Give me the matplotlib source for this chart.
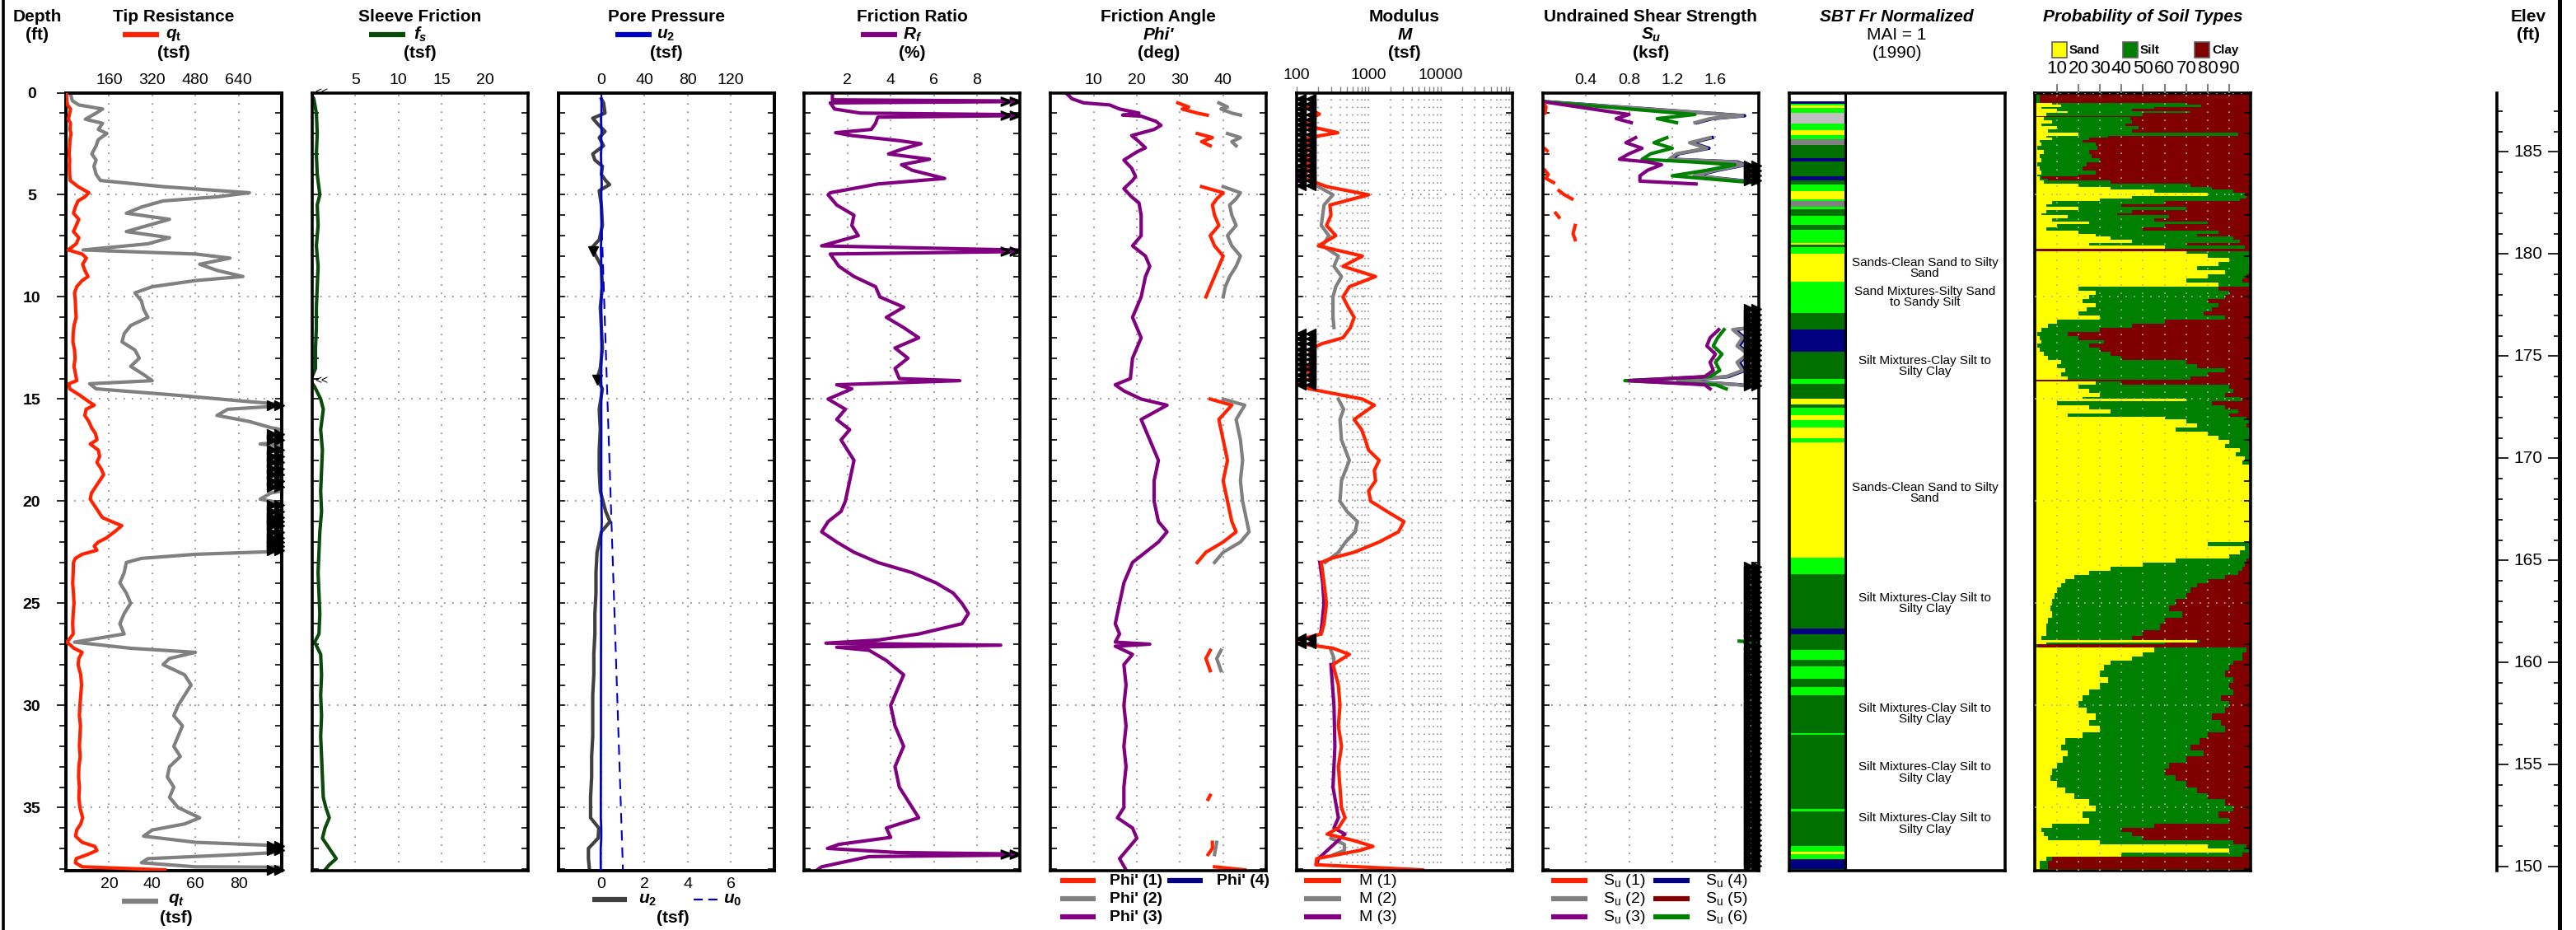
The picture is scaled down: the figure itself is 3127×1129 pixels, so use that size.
import numpy as np
import matplotlib
matplotlib.use("Agg")
import matplotlib.pyplot as plt
from matplotlib.ticker import NullFormatter, FixedLocator
from matplotlib.transforms import blended_transform_factory
from matplotlib.lines import Line2D
from matplotlib.patches import Rectangle

plt.rcParams['font.family'] = ['Liberation Sans', 'DejaVu Sans']
plt.rcParams['mathtext.fontset'] = 'custom'
plt.rcParams['mathtext.it'] = 'Liberation Sans:italic:bold'
plt.rcParams['mathtext.rm'] = 'Liberation Sans:bold'
plt.rcParams['mathtext.sf'] = 'Liberation Sans'
plt.rcParams['mathtext.bf'] = 'Liberation Sans:bold'

nan = np.nan

# ---------------- data (depth ft, value) ----------------
qt_pts = [(0.0, 2), (0.4, 3), (0.6, 6), (0.8, 17), (1.0, 14), (1.3, 9), (1.5, 17), (1.8, 15), (2.0, 19),
          (2.3, 15), (2.6, 14), (3.0, 12), (3.3, 14), (3.6, 13), (4.0, 14), (4.3, 16), (4.6, 45), (4.9, 85),
          (5.1, 70), (5.3, 45), (5.6, 35), (5.9, 28), (6.2, 48), (6.5, 38), (6.8, 28), (7.1, 48), (7.4, 38),
          (7.7, 8), (7.9, 60), (8.1, 76), (8.4, 62), (8.7, 70), (9.0, 82), (9.2, 60), (9.5, 40), (9.8, 32),
          (10.2, 35), (10.6, 36), (11.0, 38), (11.4, 30), (11.8, 27), (12.2, 26), (12.6, 32), (13.0, 34),
          (13.4, 30), (13.8, 36), (14.1, 40), (14.25, 11), (14.5, 14), (14.8, 50), (15.1, 82), (15.3, 105),
          (15.5, 75), (15.8, 70), (16.1, 85), (16.4, 95), (16.7, 110), (17.0, 115), (17.2, 90), (17.5, 120),
          (17.8, 125), (18.1, 115), (18.4, 130), (18.7, 140), (19.0, 125), (19.3, 110), (19.6, 95), (19.9, 90),
          (20.2, 105), (20.5, 120), (20.8, 135), (21.0, 170), (21.2, 207), (21.5, 180), (21.8, 150), (22.0, 120),
          (22.2, 105), (22.4, 115), (22.6, 60), (22.8, 35), (23.0, 28), (23.5, 27), (24.0, 25), (24.5, 28),
          (25.0, 30), (25.5, 27), (26.0, 25), (26.5, 27), (26.9, 4), (27.2, 30), (27.4, 60), (27.7, 48),
          (28.0, 45), (28.5, 55), (29.0, 58), (29.5, 55), (30.0, 52), (30.5, 50), (31.0, 54), (31.5, 52),
          (32.0, 50), (32.5, 53), (33.0, 48), (33.5, 47), (34.0, 50), (34.5, 48), (35.0, 52), (35.5, 62),
          (35.8, 55), (36.1, 40), (36.4, 36), (36.7, 60), (36.9, 107), (37.1, 115), (37.3, 80), (37.5, 38),
          (37.7, 35), (37.9, 60), (38.05, 367)]

fs_pts = [(0.0, -0.2), (0.3, 0.2), (1.0, 0.5), (2.0, 0.6), (3.0, 0.5), (4.0, 0.6), (5.0, 0.9), (5.5, 0.6),
          (6.5, 0.7), (7.5, 0.5), (8.5, 0.7), (9.5, 0.6), (10.5, 0.5), (11.5, 0.5), (12.5, 0.4), (13.5, 0.4),
          (14.1, -0.2), (14.4, 0.3), (15.0, 1.0), (15.5, 1.3), (16.5, 1.0), (17.5, 1.2), (18.5, 1.1),
          (19.5, 1.0), (20.5, 1.1), (21.5, 0.9), (22.5, 0.8), (23.5, 0.7), (24.5, 0.8), (25.5, 0.9),
          (26.5, 0.8), (26.9, 0.3), (27.5, 1.0), (28.5, 1.1), (29.5, 1.0), (30.5, 1.1), (31.5, 1.0),
          (32.5, 1.1), (33.5, 1.2), (34.5, 1.3), (35.0, 1.6), (35.5, 2.0), (36.0, 1.5), (36.5, 1.2),
          (37.0, 2.0), (37.5, 2.8), (37.8, 2.0), (38.05, 1.5)]

u2_pts = [(0.3, 0.0), (0.5, 0.1), (1.0, 0.17), (1.25, -0.4), (1.5, -0.2), (1.9, 0.17), (2.2, -0.1), (2.6, 0.1),
          (3.0, -0.4), (3.3, -0.3), (3.6, 0.05), (4.0, 0.0), (4.3, 0.2), (4.5, 0.38), (4.8, -0.1), (5.5, 0.0),
          (6.5, 0.05), (7.2, -0.1), (7.6, -0.45), (7.9, -0.3), (8.5, 0.0), (9.5, 0.05), (10.5, -0.05),
          (11.5, 0.0), (12.5, 0.05), (13.5, -0.05), (14.0, -0.2), (14.5, 0.05), (15.5, -0.1), (16.5, -0.05),
          (17.5, -0.1), (18.5, -0.1), (19.5, -0.05), (20.5, 0.2), (21.0, 0.4), (21.5, 0.0), (22.5, -0.2),
          (23.5, -0.25), (24.5, -0.25), (25.5, -0.3), (26.5, -0.3), (27.5, -0.35), (28.5, -0.35),
          (29.5, -0.4), (30.5, -0.4), (31.5, -0.4), (32.5, -0.45), (33.5, -0.45), (34.5, -0.5),
          (35.5, -0.5), (36.0, -0.12), (36.5, -0.15), (37.0, -0.6), (37.5, -0.6), (38.05, -0.55)]
u0_pts = [(0.0, 0.0), (6.0, 0.0), (38.05, 1.0)]
u2_flag_pts = [(7.75, -0.4), (14.05, -0.2)]

rf_pts = [(0.0, 1.3), (0.35, 1.3), (0.42, 12), (0.5, 1.2), (0.8, 1.4), (1.0, 2.6), (1.1, 12), (1.2, 3.4),
          (1.5, 3.3), (1.8, 3.1), (1.96, 1.45), (2.1, 2.2), (2.35, 4.4), (2.5, 5.4), (2.74, 4.6), (3.0, 3.9),
          (3.26, 5.8), (3.53, 4.5), (3.8, 5.0), (4.2, 6.5), (4.47, 3.4), (4.9, 1.2), (5.0, 1.1), (5.5, 1.5),
          (6.0, 2.3), (6.5, 2.2), (7.0, 2.5), (7.5, 0.8), (7.75, 12), (7.9, 1.2), (8.5, 1.6), (9.0, 2.3),
          (9.5, 3.3), (10.0, 3.5), (10.5, 4.6), (11.0, 3.8), (11.5, 4.6), (12.0, 5.3), (12.5, 4.2),
          (13.0, 4.8), (13.5, 4.2), (14.0, 4.4), (14.1, 7.2), (14.3, 1.5), (14.5, 2.2), (15.0, 1.1),
          (15.5, 1.9), (16.0, 1.5), (16.5, 2.1), (17.0, 1.7), (18.0, 2.3), (19.0, 2.1), (20.0, 1.9),
          (20.5, 1.7), (21.0, 1.1), (21.5, 0.8), (22.0, 1.5), (22.5, 2.3), (23.0, 3.4), (23.5, 5.0),
          (24.0, 6.1), (24.5, 6.9), (25.0, 7.3), (25.5, 7.6), (26.0, 7.3), (26.5, 5.3), (26.8, 3.4),
          (26.95, 1.0), (27.05, 9.1), (27.15, 1.5), (27.3, 3.0), (27.8, 3.8), (28.5, 4.6), (29.0, 4.4),
          (30.0, 4.0), (31.0, 4.2), (32.0, 4.6), (33.0, 4.2), (34.0, 4.4), (35.0, 5.0), (35.5, 5.3),
          (36.0, 3.8), (36.46, 4.0), (36.8, 1.6), (37.0, 1.07), (37.2, 4.3), (37.3, 12), (37.4, 3.0),
          (37.9, 0.8), (38.05, 0.6)]

phi3_pts = [(0.0, 3.5), (0.3, 5), (0.5, 7.7), (0.6, 13.7), (0.8, 16), (1.0, 20.5), (1.1, 16.7), (1.15, 21),
            (1.3, 23), (1.4, 24.4), (1.6, 25.6), (1.8, 24), (2.1, 18.8), (2.4, 20.5), (2.7, 22), (2.9, 20),
            (3.3, 17), (3.7, 18.8), (4.1, 19.7), (4.3, 19), (4.7, 17), (5.1, 18.8), (5.4, 20.5), (6.0, 21),
            (7.0, 21), (7.5, 19), (8.0, 22), (8.5, 23), (9.0, 22), (10.0, 21), (11.0, 19), (12.0, 21),
            (13.0, 19), (14.0, 18.5), (14.3, 15), (14.6, 17), (15.0, 21), (15.3, 27), (16.0, 21), (17.0, 23),
            (18.0, 25), (19.0, 24), (20.0, 24), (21.0, 25), (21.5, 27), (22.0, 25), (22.5, 22), (23.0, 19),
            (24.0, 17), (25.0, 16), (26.0, 15), (26.5, 16), (26.9, 15), (27.0, 23), (27.1, 15), (27.5, 19),
            (28.0, 17), (29.0, 17.5), (30.0, 17), (31.0, 17.5), (32.0, 17), (33.0, 17.5), (34.0, 17),
            (35.0, 17), (35.5, 15.5), (36.0, 19), (36.5, 20), (37.0, 18), (37.5, 16), (38.05, 17.5)]
phi1_pts = [(0.5, 29.5), (0.7, 32), (0.8, 30.5), (1.0, 34), (1.1, 36.3), (None, None),
            (2.0, 34), (2.2, 37.5), (2.4, 35), (2.6, 37), (None, None),
            (4.6, 35), (4.9, 40), (5.2, 38.5), (5.5, 37.5), (6.0, 38), (6.5, 39), (7.0, 37), (7.5, 38),
            (8.0, 40), (8.5, 39), (9.0, 38), (9.5, 37), (10.0, 36), (None, None),
            (15.0, 37), (15.3, 42), (16.0, 39), (17.0, 40), (18.0, 41), (19.0, 40), (20.0, 41), (21.0, 42),
            (21.5, 43), (22.0, 40), (22.5, 36), (23.0, 34), (None, None),
            (27.3, 37), (27.7, 36), (28.3, 37), (None, None), (34.4, 37), (34.6, 36.5), (None, None),
            (36.7, 37.5), (37.0, 37.5), (37.3, 36.5), (None, None), (37.9, 38), (38.05, 45)]
phi2_pts = [(0.5, 39), (0.7, 41), (0.8, 39.5), (1.0, 42), (1.1, 44), (None, None),
            (2.0, 41), (2.2, 44), (2.4, 42), (2.6, 43), (None, None),
            (4.6, 40), (4.9, 44), (5.2, 43), (5.5, 41.5), (6.0, 42), (6.5, 43), (7.0, 41), (7.5, 42),
            (8.0, 44), (8.5, 43), (9.0, 41.5), (9.5, 40.5), (10.0, 40), (None, None),
            (15.0, 40), (15.3, 45), (16.0, 43), (17.0, 44), (18.0, 44.5), (19.0, 44), (20.0, 44.5),
            (21.0, 45.5), (21.5, 46), (22.0, 44), (22.5, 40), (23.0, 38), (None, None),
            (27.3, 39.5), (27.7, 38.5), (28.3, 39.5), (None, None), (36.7, 38.5), (37.3, 38)]

m1_pts = [(0.5, 130), (0.8, 150), (1.05, 207), (1.3, 150), (1.6, 130), (1.96, 373), (2.2, 146), (2.6, 140),
          (3.0, 135), (3.5, 146), (4.2, 130), (4.6, 262), (5.0, 1000), (5.5, 290), (6.0, 300), (6.5, 260),
          (7.0, 350), (7.5, 200), (8.0, 820), (8.5, 440), (9.0, 1250), (9.5, 540), (10.0, 440), (10.5, 520),
          (11.0, 630), (11.5, 560), (12.0, 440), (12.3, 220), (12.6, 150), (13.0, 170), (13.5, 140),
          (14.0, 160), (14.2, 95), (14.5, 150), (15.0, 820), (15.3, 1200), (16.0, 630), (16.5, 800),
          (17.0, 900), (17.5, 1000), (18.0, 1400), (18.5, 1200), (19.0, 1250), (19.5, 1000), (20.0, 1070),
          (20.5, 1800), (21.0, 3100), (21.5, 2600), (22.0, 1400), (22.5, 630), (22.8, 300), (23.0, 220),
          (24.0, 240), (25.0, 260), (26.0, 240), (26.5, 220), (26.9, 80), (27.2, 320), (27.5, 540),
          (28.0, 320), (29.0, 380), (30.0, 400), (31.0, 380), (32.0, 420), (33.0, 380), (34.0, 400),
          (35.0, 420), (35.5, 470), (36.0, 380), (36.3, 265), (36.6, 600), (36.9, 1150), (37.1, 750),
          (37.5, 190), (37.8, 185), (38.05, 5600)]
m2_pts = [(4.6, 200), (5.0, 320), (5.5, 240), (6.0, 230), (6.5, 220), (7.0, 280), (7.5, 230), (8.0, 380),
          (8.5, 330), (9.0, 420), (9.5, 350), (10.0, 320), (11.0, 320), (11.5, 330), (None, None),
          (15.0, 380), (15.5, 450), (16.0, 400), (17.0, 420), (18.0, 540), (19.0, 420), (20.0, 400),
          (20.5, 500), (21.0, 700), (21.5, 650), (22.0, 480), (22.5, 380), (23.0, 250), (None, None),
          (27.3, 300), (27.7, 330), (28.3, 320), (None, None), (36.5, 300), (36.8, 460), (37.1, 460), (37.3, 330)]
m3_pts = [(3.8, 105), (4.0, 115), (4.2, 108), (4.4, 95), (None, None),
          (23.0, 210), (24.0, 230), (25.0, 240), (26.0, 225), (26.5, 215), (None, None),
          (28.0, 300), (30.0, 330), (32.0, 340), (34.0, 320), (35.5, 380), (36.0, 330), (36.3, 470),
          (37.5, 200), (37.8, 190)]
m_low_ranges = [(0.3, 4.6), (11.8, 14.5), (26.7, 27.1)]

su1_pts = [(0.44, 0.0), (0.7, 0.03), (1.0, 0.02), (None, None), (2.75, 0.02), (2.85, 0.04), (None, None),
           (3.8, 0.02), (4.0, 0.05), (4.2, 0.03), (4.4, 0.1), (None, None), (4.8, 0.15), (5.0, 0.2),
           (5.2, 0.27), (None, None), (5.9, 0.12), (6.1, 0.15), (None, None), (6.5, 0.3), (6.9, 0.28), (7.2, 0.3)]
su2_pts = [(0.44, 0.0), (1.13, 1.85), (1.27, 1.55), (1.47, 1.41), (None, None),
           (2.2, 1.55), (2.45, 1.36), (2.72, 1.52), (2.99, 1.24), (3.26, 1.17), (3.39, 1.78), (3.53, 1.86),
           (3.8, 1.6), (4.07, 1.4), (4.33, 1.86), (4.47, 2.1), (None, None),
           (11.4, 2.1), (11.6, 1.76), (12.0, 1.85), (12.4, 1.8), (12.8, 1.9), (13.2, 1.8), (13.6, 1.85),
           (13.9, 1.7), (14.1, 1.25), (14.3, 1.8), (14.5, 2.1)]
su3_pts = [(0.44, 0.0), (1.07, 0.8), (1.27, 0.68), (1.47, 0.82), (None, None),
           (2.2, 0.86), (2.45, 0.77), (2.72, 0.92), (2.99, 0.8), (3.26, 0.71), (3.39, 0.97), (3.53, 1.1),
           (3.8, 0.97), (4.07, 0.9), (4.33, 0.9), (4.47, 1.42), (None, None),
           (11.6, 1.63), (12.0, 1.55), (12.4, 1.52), (12.8, 1.6), (13.2, 1.55), (13.6, 1.58), (13.9, 1.5),
           (14.1, 0.8), (14.3, 1.5), (14.5, 1.55)]
su6_pts = [(0.44, 0.0), (1.07, 1.41), (1.27, 1.06), (1.47, 1.24), (None, None),
           (2.2, 1.15), (2.45, 1.03), (2.72, 1.2), (2.99, 1.0), (3.26, 0.92), (3.39, 1.38), (3.53, 1.78),
           (3.8, 1.52), (4.07, 1.2), (4.33, 1.78), (4.47, 2.1), (None, None),
           (11.6, 1.68), (12.0, 1.62), (12.4, 1.58), (12.8, 1.66), (13.2, 1.6), (13.6, 1.64), (13.9, 1.55),
           (14.1, 0.76), (14.3, 1.6), (14.5, 1.7), (None, None), (26.85, 1.82), (26.95, 2.1)]
su_high_ranges = [(3.55, 4.45), (10.6, 14.4), (23.2, 26.8), (27.1, 36.4), (36.6, 38.0)]

# SBT Fr normalized layers: top depth and zone
sbt_top = [0.0, 0.43, 0.53, 0.63, 0.73, 0.98, 1.52, 1.84, 2.09, 2.26, 2.58, 3.2, 3.37, 4.11, 4.31, 4.51, 4.8,
           5.22, 5.32, 5.6, 5.72, 6.04, 6.48, 6.73, 7.35, 7.44, 7.57, 7.89, 9.25, 10.8, 11.6, 12.7, 14.0,
           14.26, 14.98, 15.25, 15.42, 15.79, 16.04, 16.41, 16.9, 17.1, 22.76, 23.57, 26.24, 26.53, 27.27,
           27.77, 28.09, 28.7, 29.1, 29.5, 31.35, 31.45, 35.05, 35.17, 36.9, 37.15, 37.27, 37.52, 38.0]
sbt_zone = ['none', 'clay', 'sandmix', 'sand', 'sandmix', 'sens', 'sandmix', 'sand', 'sandmix', 'org',
            'siltmix', 'clay', 'siltmix', 'clay', 'siltmix', 'sandmix', 'sand', 'sandmix', 'org', 'sandmix',
            'siltmix', 'sandmix', 'siltmix', 'sandmix', 'sand', 'siltmix', 'sandmix', 'sand', 'sandmix',
            'siltmix', 'clay', 'siltmix', 'sandmix', 'siltmix', 'sand', 'siltmix', 'sandmix', 'sand',
            'sandmix', 'sand', 'sandmix', 'sand', 'sandmix', 'siltmix', 'clay', 'siltmix', 'sandmix',
            'siltmix', 'sandmix', 'siltmix', 'sandmix', 'siltmix', 'sandmix', 'siltmix', 'sandmix', 'siltmix',
            'sandmix', 'sand', 'sandmix', 'clay', 'sandmix']
sbt_bottom = 38.07
sbt_label_depth = [8.6, 10.0, 13.4, 19.6, 25.0, 30.4, 33.3, 35.8]
sbt_label_text = ['Sands-Clean Sand to Silty\nSand', 'Sand Mixtures-Silty Sand\nto Sandy Silt',
                  'Silt Mixtures-Clay Silt to\nSilty Clay', 'Sands-Clean Sand to Silty\nSand',
                  'Silt Mixtures-Clay Silt to\nSilty Clay', 'Silt Mixtures-Clay Silt to\nSilty Clay',
                  'Silt Mixtures-Clay Silt to\nSilty Clay', 'Silt Mixtures-Clay Silt to\nSilty Clay']

# probability of soil types: depth, sand %, sand+silt %
prob_pts = [(0.0, 0, 2), (0.4, 0, 2), (0.5, 8, 70), (0.6, 12, 77), (0.7, 3, 55), (0.8, 10, 45), (0.9, 15, 72),
            (1.0, 5, 50), (1.15, 0, 1), (1.2, 4, 44), (1.35, 8, 45), (1.5, 3, 42), (1.65, 10, 48), (1.8, 6, 45),
            (1.97, 20, 94), (2.1, 5, 34), (2.2, 8, 25), (2.3, 2, 22), (2.45, 3, 28), (2.6, 1, 29), (2.8, 4, 25),
            (3.0, 2, 26), (3.2, 3, 30), (3.4, 1, 24), (3.6, 2, 22), (3.8, 3, 28), (4.0, 1, 20), (4.1, 2, 3),
            (4.2, 2, 6), (4.3, 4, 35), (4.45, 20, 72), (4.6, 35, 82), (4.75, 55, 92), (4.9, 80, 97),
            (5.05, 45, 98), (5.2, 30, 95), (5.3, 8, 60), (5.45, 5, 40), (5.6, 20, 70), (5.75, 5, 45),
            (5.9, 3, 38), (6.0, 15, 62), (6.15, 8, 55), (6.3, 25, 80), (6.45, 10, 60), (6.6, 5, 50),
            (6.75, 20, 85), (6.9, 28, 75), (7.05, 35, 92), (7.2, 45, 95), (7.35, 25, 70), (7.5, 60, 97),
            (7.65, 0, 0), (7.75, 70, 100), (7.9, 80, 100), (8.1, 90, 100), (8.3, 85, 100), (8.5, 75, 99),
            (8.7, 88, 100), (8.9, 80, 98), (9.1, 70, 96), (9.3, 85, 100), (9.5, 20, 85), (9.7, 28, 90),
            (9.9, 25, 88), (10.1, 22, 80), (10.3, 28, 85), (10.5, 24, 82), (10.7, 20, 78), (10.9, 30, 88),
            (11.1, 10, 60), (11.3, 6, 45), (11.5, 3, 30), (11.7, 1, 15), (11.9, 2, 20), (12.1, 3, 32),
            (12.3, 1, 25), (12.5, 2, 30), (12.7, 4, 35), (12.9, 6, 40), (13.1, 12, 70), (13.3, 10, 75),
            (13.5, 14, 88), (13.7, 12, 80), (13.9, 15, 72), (14.05, 0, 0), (14.15, 28, 40), (14.3, 20, 90),
            (14.5, 25, 92), (14.7, 30, 88), (14.9, 22, 95), (15.0, 70, 96), (15.1, 10, 82), (15.3, 25, 88),
            (15.5, 35, 94), (15.7, 15, 90), (15.85, 60, 98), (16.0, 70, 100), (16.2, 75, 98), (16.4, 65, 100),
            (16.6, 80, 100), (16.8, 85, 100), (17.0, 90, 100), (17.2, 88, 100), (17.4, 95, 100),
            (17.6, 93, 100), (17.8, 97, 100), (18.0, 96, 100), (18.2, 99, 100), (19.0, 100, 100),
            (20.0, 99, 100), (21.0, 100, 100), (21.8, 99, 100), (22.0, 80, 100), (22.2, 97, 100),
            (22.4, 95, 100), (22.6, 90, 100), (22.8, 65, 98), (23.0, 50, 97), (23.2, 35, 96), (23.4, 25, 94),
            (23.6, 18, 88), (23.8, 14, 80), (24.0, 12, 75), (24.2, 10, 72), (24.5, 9, 70), (24.8, 8, 65),
            (25.1, 7, 62), (25.4, 8, 68), (25.7, 6, 60), (26.0, 5, 58), (26.3, 5, 50), (26.6, 3, 45),
            (26.8, 75, 76), (26.9, 5, 60), (27.0, 0, 1), (27.15, 55, 98), (27.4, 50, 96), (27.6, 45, 96),
            (27.8, 35, 92), (28.0, 32, 90), (28.3, 30, 88), (28.6, 34, 92), (28.9, 30, 90), (29.2, 25, 92),
            (29.5, 22, 86), (29.8, 20, 90), (30.1, 24, 88), (30.4, 28, 82), (30.7, 25, 86), (31.0, 30, 88),
            (31.3, 22, 80), (31.6, 14, 76), (31.9, 12, 72), (32.2, 15, 78), (32.5, 13, 70), (32.8, 10, 62),
            (33.1, 8, 60), (33.4, 7, 65), (33.7, 10, 70), (34.0, 14, 75), (34.3, 18, 80), (34.6, 25, 88),
            (34.9, 28, 92), (35.2, 22, 85), (35.5, 25, 90), (35.8, 8, 55), (36.0, 3, 40), (36.2, 4, 45),
            (36.4, 6, 50), (36.6, 30, 92), (36.8, 80, 98), (37.0, 90, 100), (37.2, 40, 96), (37.4, 5, 8),
            (37.6, 2, 6), (37.8, 2, 6), (38.0, 100, 100), (38.07, 100, 100)]

GROUND_ELEV = 187.9
D_MAX = 38.07

# ---------------- layout ----------------
W, H, DPI = 3127, 1129, 100
TOP, BOT = 112.5, 1056.5
PW = 262
LEFTS = [80 + i * 298.8 for i in range(9)]

RED = '#ff2200'
GRAY = '#808080'
PURPLE = '#800080'
NAVY = '#000080'
DKGREEN = '#0a4a0a'
BLUE = '#0000cc'
DOT = (0, (1, 5))
LW = 3.0

fig = plt.figure(figsize=(W / DPI, H / DPI), dpi=DPI)


def xy(pts):
    d = np.array([nan if p[0] is None else p[0] for p in pts], float)
    v = np.array([nan if p[1] is None else p[1] for p in pts], float)
    return d, v


def ftext(x, y, s, size=15, weight='bold', style='normal', ha='center', **kw):
    fig.text(x / W, 1 - y / H, s, fontsize=size, fontweight=weight, fontstyle=style,
             ha=ha, va='center', **kw)


def fline(x0, x1, y, color, lw=4.5, ls='-'):
    fig.add_artist(Line2D([x0 / W, x1 / W], [1 - y / H, 1 - y / H], color=color, lw=lw, ls=ls,
                          transform=fig.transFigure, solid_capstyle='butt'))


def panel(i, grid=True):
    ax = fig.add_axes([LEFTS[i] / W, 1 - BOT / H, PW / W, (BOT - TOP) / H])
    ax.set_ylim(D_MAX, 0)
    ax.yaxis.set_major_locator(FixedLocator(range(0, 36, 5)))
    ax.yaxis.set_minor_locator(FixedLocator(range(0, 39)))
    ax.yaxis.set_major_formatter(NullFormatter())
    ax.tick_params(axis='y', which='both', direction='in', left=True, right=True, length=6, width=1.2)
    ax.xaxis.set_ticks_position('top')
    ax.tick_params(axis='x', which='both', length=0, pad=5, labelsize=14)
    for s in ax.spines.values():
        s.set_linewidth(2.6)
    if grid:
        ax.grid(True, which='major', color=GRAY, ls=DOT, lw=1.2)
    ax.set_axisbelow(True)
    return ax


def edge_marks(ax, depths, xs, marker, ms=9, color='k'):
    tr = blended_transform_factory(ax.transAxes, ax.transData)
    for x in xs:
        ax.plot([x] * len(depths), depths, ls='none', marker=marker, ms=ms, color=color,
                transform=tr, clip_on=False, zorder=6)


def range_depths(ranges, step=0.25):
    out = []
    for a, b in ranges:
        out.extend(np.arange(a, b + 1e-6, step))
    return np.array(out)


# ---- panel 0: tip resistance
qd, qv = xy(qt_pts)
ax0 = panel(0)
ax0.xaxis.set_ticks_position('bottom')
ax0.set_xlim(0, 100)
ax0.set_xticks([20, 40, 60, 80])
ax0.tick_params(axis='x', length=0, pad=6, labelsize=14)
ax0.tick_params(axis='y', which='both', left=False)
ax0.plot(qv, qd, color=GRAY, lw=LW, zorder=3)
edge_marks(ax0, qd[qv > 100], [0.955, 0.988], '>', ms=9)
t0 = ax0.twiny()
t0.set_xlim(0, 800)
t0.set_xticks([160, 320, 480, 640])
t0.tick_params(axis='x', length=0, pad=5, labelsize=14)
for s in t0.spines.values():
    s.set_linewidth(2.6)
t0.plot(qv, qd, color=RED, lw=LW, zorder=4)
dep = ax0.secondary_yaxis('left')
dep.set_yticks(list(range(0, 36, 5)))
dep.yaxis.set_minor_locator(FixedLocator(range(0, 39)))
dep.tick_params(axis='y', which='major', direction='out', length=8, width=1.2, pad=22, labelsize=14)
dep.tick_params(axis='y', which='minor', direction='out', length=6, width=1.2)
dep.spines['left'].set_linewidth(2.6)
for lab in dep.get_yticklabels():
    lab.set_fontweight('bold')
    lab.set_horizontalalignment('center')

# ---- panel 1: sleeve friction
fd, fv = xy(fs_pts)
ax1 = panel(1)
ax1.set_xlim(0, 25)
ax1.set_xticks([5, 10, 15, 20])
ax1.plot(fv, fd, color=DKGREEN, lw=LW)
tr1 = blended_transform_factory(ax1.transAxes, ax1.transData)
for d in fd[fv < 0]:
    ax1.text(0.012, d, '<<', transform=tr1, fontsize=10, va='center', ha='left')

# ---- panel 2: pore pressure
ud, uv = xy(u2_pts)
u0d, u0v = xy(u0_pts)
fld, flv = xy(u2_flag_pts)
ax2 = panel(2)
ax2.xaxis.set_ticks_position('bottom')
ax2.set_xlim(-2, 8)
ax2.set_xticks([0, 2, 4, 6])
ax2.tick_params(axis='x', length=0, pad=6, labelsize=14)
ax2.plot(uv, ud, color='#404040', lw=LW, zorder=3)
ax2.plot(u0v, u0d, color=BLUE, lw=1.5, ls=(0, (6, 4)), zorder=3)
ax2.plot(flv, fld, ls='none', marker='v', ms=9, color='k', zorder=5)
t2 = ax2.twiny()
t2.set_xlim(-40, 160)
t2.set_xticks([0, 40, 80, 120])
t2.tick_params(axis='x', length=0, pad=5, labelsize=14)
for s in t2.spines.values():
    s.set_linewidth(2.6)
t2.plot(uv, ud, color=BLUE, lw=2.0, zorder=4)

# ---- panel 3: friction ratio
rd, rv = xy(rf_pts)
ax3 = panel(3)
ax3.set_xlim(0, 10)
ax3.set_xticks([2, 4, 6, 8])
ax3.plot(rv, rd, color=PURPLE, lw=LW)
edge_marks(ax3, rd[rv > 10], [0.93, 0.97], '$>$', ms=8)

# ---- panel 4: friction angle
ax4 = panel(4)
ax4.set_xlim(0, 50)
ax4.set_xticks([10, 20, 30, 40])
for pts, c in [(phi2_pts, GRAY), (phi1_pts, RED), (phi3_pts, PURPLE)]:
    d, v = xy(pts)
    ax4.plot(v, d, color=c, lw=LW)

# ---- panel 5: modulus
ax5 = panel(5, grid=False)
ax5.set_xscale('log')
ax5.set_xlim(100, 100000)
ax5.set_xticks([100, 1000, 10000])
ax5.set_xticklabels(['100', '1000', '10000'])
ax5.xaxis.set_minor_formatter(NullFormatter())
ax5.tick_params(axis='x', which='both', direction='out', length=6, width=1.0, pad=3, labelsize=14,
                color=GRAY)
ax5.grid(True, axis='x', which='both', color=GRAY, ls=DOT, lw=1.1)
ax5.grid(True, axis='y', which='major', color=GRAY, ls=DOT, lw=1.2)
for pts, c in [(m2_pts, GRAY), (m3_pts, PURPLE), (m1_pts, RED)]:
    d, v = xy(pts)
    ax5.plot(v, d, color=c, lw=LW)
edge_marks(ax5, range_depths(m_low_ranges), [0.02, 0.065], '<', ms=9)

# ---- panel 6: undrained shear strength
ax6 = panel(6)
ax6.set_xlim(0, 2.0)
ax6.set_xticks([0.4, 0.8, 1.2, 1.6])
ax6.set_xticklabels(['0.4', '0.8', '1.2', '1.6'])
for pts, c, off in [(su2_pts, NAVY, 0.02), (su2_pts, GRAY, 0.0), (su6_pts, '#008000', 0.0),
                    (su3_pts, PURPLE, 0.0), (su1_pts, RED, 0.0)]:
    d, v = xy(pts)
    ax6.plot(v + off, d, color=c, lw=LW)
edge_marks(ax6, range_depths(su_high_ranges), [0.955, 0.988], '>', ms=9)

# ---- panel 7: SBT
SBT_COLORS = {'none': '#ffffff', 'clay': '#000080', 'siltmix': '#007000', 'sandmix': '#00ff00',
              'sand': '#ffff00', 'sens': '#c0c0c0', 'org': '#808080'}
ax7 = panel(7, grid=False)
ax7.set_xlim(0, 1)
ax7.set_xticks([])
ax7.tick_params(axis='y', which='both', left=False, right=False)
bottoms = sbt_top[1:] + [sbt_bottom]
for t, b, z in zip(sbt_top, bottoms, sbt_zone):
    ax7.fill_betweenx([t, b], 0, 0.262, color=SBT_COLORS[z], lw=0)
ax7.axvline(0.262, color='k', lw=2.2)
for d, s in zip(sbt_label_depth, sbt_label_text):
    ax7.text(0.63, d, s, ha='center', va='center', fontsize=11, linespacing=0.95)

# ---- panel 8: probability of soil types
pdep, sand, sandsilt = (np.array(c, float) for c in zip(*prob_pts))
ax8 = panel(8, grid=False)
ax8.set_xlim(0, 100)
ax8.set_xticks(range(10, 100, 10))
ax8.tick_params(axis='x', direction='out', length=8, width=1.5, color=GRAY, pad=5, labelsize=16)
ax8.fill_betweenx(pdep, 0, sand, step='post', color='#ffff00', lw=0)
ax8.fill_betweenx(pdep, sand, sandsilt, step='post', color='#008000', lw=0)
ax8.fill_betweenx(pdep, sandsilt, 100, step='post', color='#800000', lw=0)
ax8.grid(True, which='major', color='#b0b0b0', ls=DOT, lw=1.2, zorder=4)
ax8.set_axisbelow(False)
ax8.tick_params(axis='y', which='both', left=False)

# ---- elevation axis
axe = fig.add_axes([3031 / W, 1 - BOT / H, 76 / W, (BOT - TOP) / H])
axe.set_ylim(GROUND_ELEV - D_MAX, GROUND_ELEV)
axe.set_xticks([])
axe.yaxis.set_major_locator(FixedLocator(range(150, 188, 5)))
axe.yaxis.set_minor_locator(FixedLocator(range(150, 188)))
axe.yaxis.set_major_formatter(NullFormatter())
axe.tick_params(axis='y', which='major', direction='in', left=True, right=True, length=10, width=1.2)
axe.tick_params(axis='y', which='minor', direction='in', left=True, right=True, length=5, width=1.2)
axe.patch.set_visible(False)
for k in ['top', 'bottom', 'right']:
    axe.spines[k].set_visible(False)
axe.spines['left'].set_linewidth(2.6)
tre = blended_transform_factory(axe.transAxes, axe.transData)
for v in range(150, 188, 5):
    axe.text(0.5, v, '%d' % v, transform=tre, ha='center', va='center', fontsize=15)

fig.add_artist(Line2D([3107 / W] * 2, [0, 1], color='k', lw=3.6, transform=fig.transFigure))
fig.add_artist(Line2D([4 / W] * 2, [0, 1], color='k', lw=2.6, transform=fig.transFigure))

# ---------------- headers ----------------
ftext(45, 20, 'Depth')
ftext(45, 43, '(ft)')
ftext(3069, 20, 'Elev')
ftext(3069, 43, '(ft)')

titles = ['Tip Resistance', 'Sleeve Friction', 'Pore Pressure', 'Friction Ratio', 'Friction Angle',
          'Modulus', 'Undrained Shear Strength']
symbols = [r'$q_\mathrm{t}$', r'$f_s$', r'$u_\mathrm{2}$', r'$R_f$', "Phi'", 'M', r'$S_u$']
units = ['(tsf)', '(tsf)', '(tsf)', '(%)', '(deg)', '(tsf)', '(ksf)']
sym_colors = [RED, DKGREEN, BLUE, PURPLE, None, None, None]
for i in range(7):
    cx = LEFTS[i] + PW / 2
    ftext(cx, 20, titles[i])
    if sym_colors[i] is not None:
        fline(cx - 62, cx - 18, 42, sym_colors[i])
        ftext(cx, 42, symbols[i], size=15)
    else:
        ftext(cx, 42, symbols[i], size=15, style='italic')
    ftext(cx, 65, units[i])

cx = LEFTS[7] + PW / 2
ftext(cx, 20, 'SBT Fr Normalized', style='italic')
ftext(cx, 42, 'MAI = 1', weight='normal')
ftext(cx, 65, '(1990)', weight='normal')

cx = LEFTS[8] + PW / 2
ftext(cx, 20, 'Probability of Soil Types', style='italic')
for x0, name, c in [(2491, 'Sand', '#ffff00'), (2577, 'Silt', '#008000'), (2664, 'Clay', '#800000')]:
    fig.add_artist(Rectangle((x0 / W, 1 - 70 / H), 18 / W, 19 / H, facecolor=c, edgecolor='#606060',
                             lw=1.2, transform=fig.transFigure))
    ftext(x0 + 21, 61, name, size=11, ha='left')

# bottom legends
fline(148, 192, 1094, GRAY)
ftext(214, 1093, r'$q_t$', size=15)
ftext(214, 1115, '(tsf)')

fline(719, 761, 1092, '#404040')
ftext(786, 1092, r'$u_\mathrm{2}$', size=15)
fline(842, 874, 1092, BLUE, lw=1.6, ls=(0, (5, 3)))
ftext(889, 1092, r'$u_0$', size=15)
ftext(817, 1115, '(tsf)')

rows = [1069, 1091, 1113]
for (name, c), (xl, row) in zip([("Phi' (1)", RED), ("Phi' (2)", GRAY), ("Phi' (3)", PURPLE), ("Phi' (4)", NAVY)],
                                [(1287, 0), (1287, 1), (1287, 2), (1417, 0)]):
    fline(xl, xl + 43, rows[row], c)
    ftext(xl + 60, rows[row], name, size=14, ha='left')

for (name, c), row in zip([('M (1)', RED), ('M (2)', GRAY), ('M (3)', PURPLE)], range(3)):
    fline(1583, 1628, rows[row], c)
    ftext(1650, rows[row], name, size=14, weight='normal', ha='left')

su_leg = [('1', RED, 1883, 0), ('2', GRAY, 1883, 1), ('3', PURPLE, 1883, 2),
          ('4', NAVY, 2007, 0), ('5', '#800000', 2007, 1), ('6', '#008000', 2007, 2)]
for n, c, xl, row in su_leg:
    fline(xl, xl + 44, rows[row], c)
    ftext(xl + 63, rows[row], r'S$_\mathsf{u}$ (' + n + ')', size=14, weight='normal', ha='left')

fig.savefig('out.png', dpi=DPI)
